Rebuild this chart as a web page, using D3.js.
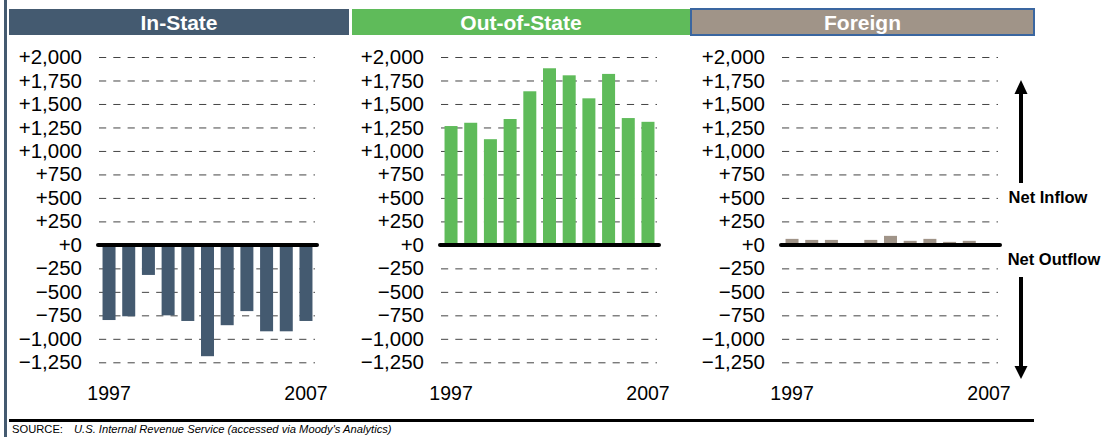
<!DOCTYPE html>
<html>
<head>
<meta charset="utf-8">
<script src="https://cdn.jsdelivr.net/npm/d3@7"></script>
<style>
  body { margin: 0; background: #fff; }
  svg { display: block; font-family: "Liberation Sans", Arial, sans-serif; }
</style>
</head>
<body>
<div id="container"></div>
<script>
// data
const years = [1997, 1998, 1999, 2000, 2001, 2002, 2003, 2004, 2005, 2006, 2007];
const inState = [-800, -760, -320, -750, -810, -1185, -855, -705, -920, -920, -810];
const outOfState = [1265, 1300, 1125, 1340, 1635, 1880, 1805, 1560, 1820, 1350, 1310];
const foreign = [64, 53, 53, 0, 53, 96, 43, 64, 32, 43, 0];
const panelTitles = ["In-State", "Out-of-State", "Foreign"];
const yearLabels = [1997, 2007];
const tickValues = [2000, 1750, 1500, 1250, 1000, 750, 500, 250, 0, -250, -500, -750, -1000, -1250];

const w = 1106;
const h = 437;

const panels = [
  {title: panelTitles[0], values: inState, color: "#445a70", offset: 0},
  {title: panelTitles[1], values: outOfState, color: "#5fbb5a", offset: 342},
  {title: panelTitles[2], values: foreign, color: "#a09488", offset: 683}
];

const svg = d3.select("#container")
              .append("svg")
              .attr("width", w)
              .attr("height", h);

//THE SCALES
const yScale = d3.scaleLinear()
                 .domain([-1250, 2000])
                 .range([362.3, 57]);

const signFormat = d => (d < 0 ? "\u2212" : "+") + d3.format(",")(Math.abs(d));

//left border strip
svg.append("rect")
   .attr("x", 4).attr("y", 0)
   .attr("width", 3).attr("height", h)
   .attr("fill", "#445a70");

//header boxes
const headers = [[9, 349], [352, 690], [691, 1034]];

panels.forEach((p, i) => {
  const g = svg.append("g");
  const [hx0, hx1] = headers[i];

  g.append("rect")
   .attr("x", hx0).attr("y", 9)
   .attr("width", hx1 - hx0).attr("height", 26)
   .attr("fill", p.color)
   .attr("stroke", i === 2 ? "#3a66a0" : "none")
   .attr("stroke-width", 2);

  g.append("text")
   .attr("x", (hx0 + hx1) / 2)
   .attr("y", 30)
   .attr("text-anchor", "middle")
   .attr("fill", "#fff")
   .attr("font-weight", "bold")
   .attr("font-size", "21px")
   .text(p.title);

  const xScale = d3.scaleBand()
                   .domain(years)
                   .range([98 + p.offset, 317 + p.offset])
                   .paddingInner(0.34)
                   .paddingOuter(0.23);

  //y axis doubles as the dashed grid
  const gridStart = 99 + p.offset;
  const yAxis = d3.axisLeft(yScale)
                  .tickValues(tickValues)
                  .tickFormat(signFormat)
                  .tickSizeInner(-216)
                  .tickSizeOuter(0)
                  .tickPadding(17);

  const ax = g.append("g")
              .attr("transform", `translate(${gridStart}, 0)`)
              .call(yAxis);
  ax.select(".domain").remove();
  ax.selectAll(".tick line")
    .attr("stroke", "#444")
    .attr("stroke-dasharray", "7.2,7.1")
    .attr("opacity", d => d === 0 ? 0 : 1);
  ax.selectAll(".tick text")
    .attr("fill", "#000")
    .attr("font-size", "20.5px")
    .attr("font-family", "Liberation Sans, Arial, sans-serif");

  //bars
  g.selectAll("rect.bar")
   .data(years.map((y, j) => ({year: y, value: p.values[j]})))
   .enter()
   .append("rect")
   .attr("class", "bar")
   .attr("x", d => xScale(d.year))
   .attr("width", xScale.bandwidth())
   .attr("y", d => yScale(Math.max(0, d.value)))
   .attr("height", d => Math.abs(yScale(d.value) - yScale(0)))
   .attr("fill", p.color);

  //zero line
  g.append("line")
   .attr("x1", xScale.range()[0]).attr("x2", xScale.range()[1])
   .attr("y1", yScale(0)).attr("y2", yScale(0))
   .attr("stroke", "#000")
   .attr("stroke-width", 4)
   .attr("stroke-linecap", "round");

  //years
  const xAxis = d3.axisBottom(xScale)
                  .tickValues(yearLabels)
                  .tickSize(0)
                  .tickPadding(0);
  const xa = g.append("g")
              .attr("transform", "translate(0, 386)")
              .call(xAxis);
  xa.select(".domain").remove();
  xa.selectAll(".tick text")
    .attr("fill", "#000")
    .attr("font-size", "19.5px")
    .attr("font-family", "Liberation Sans, Arial, sans-serif");
});

//inflow / outflow arrows
const ax = 1021;
svg.append("path")
   .attr("d", `M${ax},183 L${ax},93`)
   .attr("stroke", "#000").attr("stroke-width", 4);
svg.append("path")
   .attr("d", `M${ax - 6.5},94 L${ax},80 L${ax + 6.5},94 Z`)
   .attr("fill", "#000");
svg.append("path")
   .attr("d", `M${ax},277 L${ax},368`)
   .attr("stroke", "#000").attr("stroke-width", 4);
svg.append("path")
   .attr("d", `M${ax - 6.5},366 L${ax},379 L${ax + 6.5},366 Z`)
   .attr("fill", "#000");

svg.append("text")
   .attr("x", 1048).attr("y", 203)
   .attr("text-anchor", "middle")
   .attr("font-weight", "bold")
   .attr("font-size", "16.5px")
   .text("Net Inflow");
svg.append("text")
   .attr("x", 1054).attr("y", 265)
   .attr("text-anchor", "middle")
   .attr("font-weight", "bold")
   .attr("font-size", "16.5px")
   .text("Net Outflow");

//bottom rule and source
svg.append("line")
   .attr("x1", 9).attr("x2", 1034)
   .attr("y1", 420.5).attr("y2", 420.5)
   .attr("stroke", "#000").attr("stroke-width", 3);

const src = svg.append("text")
               .attr("x", 12).attr("y", 433)
               .attr("font-size", "11.2px");
src.append("tspan").text("SOURCE:");
src.append("tspan")
   .attr("x", 74)
   .attr("font-style", "italic")
   .text("U.S. Internal Revenue Service (accessed via Moody's Analytics)");
</script>
</body>
</html>
